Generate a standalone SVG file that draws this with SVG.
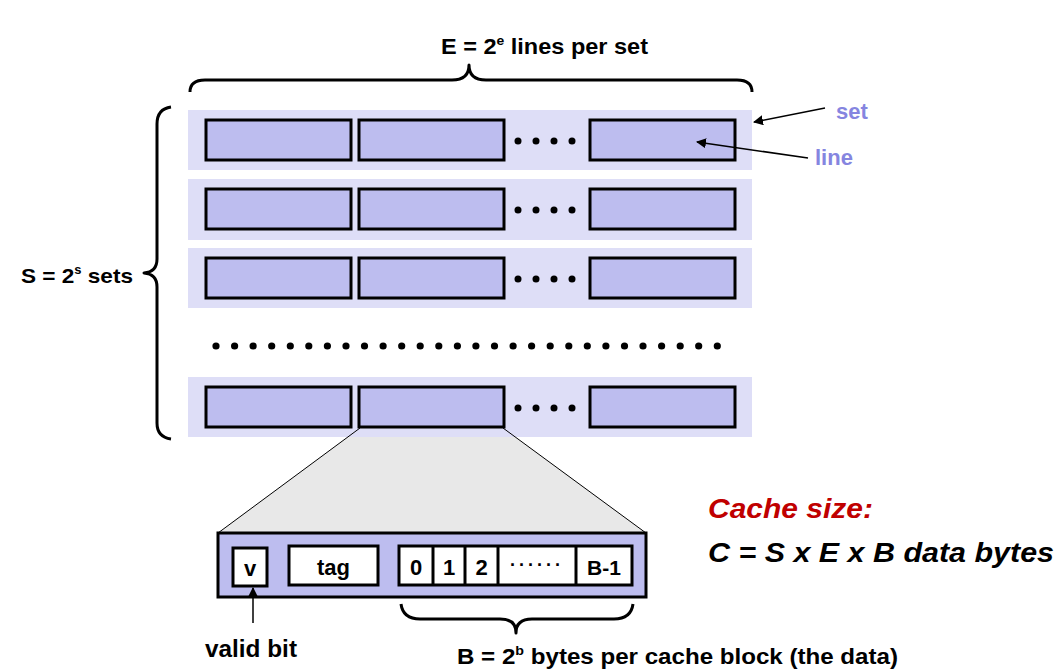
<svg xmlns="http://www.w3.org/2000/svg" width="1063" height="669" viewBox="0 0 1063 669">
<defs>
<marker id="ah" viewBox="0 0 10 10" refX="9" refY="5" markerWidth="10" markerHeight="10" markerUnits="userSpaceOnUse" orient="auto">
<path d="M0,0 L10,5 L0,10 z" fill="#000"/>
</marker>
<style>
.setbg{fill:#dedef7;stroke:none}
.ln{fill:#bdbdef;stroke:#000;stroke-width:3}
.wb{fill:#fff;stroke:#000;stroke-width:3}
.brace{fill:none;stroke:#000;stroke-width:3;stroke-linejoin:round}
.t{font-family:"Liberation Sans",Arial,sans-serif;font-weight:bold;fill:#000}
.lbl{font-family:"Liberation Sans",Arial,sans-serif;font-weight:bold;fill:#8585e0;font-size:22px}
.arr{stroke:#000;stroke-width:1.5;fill:none}
.dot{fill:#000}
</style>
</defs>
<rect width="1063" height="669" fill="#fff"/>

<g id="title">
<text class="t" x="441" y="54" font-size="22" textLength="207" lengthAdjust="spacingAndGlyphs">E = 2<tspan font-size="13" dy="-9">e</tspan><tspan dy="9"> lines per set</tspan></text>
<path class="brace" d="M190,92 Q190,80 205,80 L452,80 Q469,80 469,65 Q469,80 486,80 L737,80 Q752,80 752,92"/>
</g>

<g id="sets-label">
<text class="t" x="21" y="283" font-size="21" textLength="112" lengthAdjust="spacingAndGlyphs">S = 2<tspan font-size="12" dy="-9">s</tspan><tspan dy="9"> sets</tspan></text>
<path class="brace" d="M171,107 Q157,109 157,124 L157,259 Q157,272 144,273 Q157,274 157,287 L157,423 Q157,437 171,439"/>
</g>

<g id="set1">
<rect class="setbg" x="188" y="110" width="564" height="60"/>
<rect class="ln" x="206" y="120" width="145" height="40"/>
<rect class="ln" x="359" y="120" width="145" height="40"/>
<rect class="ln" x="590" y="120" width="145" height="40"/>
<circle class="dot" cx="518" cy="141" r="3.5"/><circle class="dot" cx="536" cy="141" r="3.5"/><circle class="dot" cx="554" cy="141" r="3.5"/><circle class="dot" cx="572" cy="141" r="3.5"/>
</g>
<g id="set2">
<rect class="setbg" x="188" y="179" width="564" height="61"/>
<rect class="ln" x="206" y="189" width="145" height="40"/>
<rect class="ln" x="359" y="189" width="145" height="40"/>
<rect class="ln" x="590" y="189" width="145" height="40"/>
<circle class="dot" cx="518" cy="210" r="3.5"/><circle class="dot" cx="536" cy="210" r="3.5"/><circle class="dot" cx="554" cy="210" r="3.5"/><circle class="dot" cx="572" cy="210" r="3.5"/>
</g>
<g id="set3">
<rect class="setbg" x="188" y="248" width="564" height="60"/>
<rect class="ln" x="206" y="258" width="145" height="40"/>
<rect class="ln" x="359" y="258" width="145" height="40"/>
<rect class="ln" x="590" y="258" width="145" height="40"/>
<circle class="dot" cx="518" cy="279" r="3.5"/><circle class="dot" cx="536" cy="279" r="3.5"/><circle class="dot" cx="554" cy="279" r="3.5"/><circle class="dot" cx="572" cy="279" r="3.5"/>
</g>

<g id="set-ellipsis">
<circle class="dot" cx="216" cy="346" r="3.6"/><circle class="dot" cx="234.6" cy="346" r="3.6"/><circle class="dot" cx="253.1" cy="346" r="3.6"/><circle class="dot" cx="271.7" cy="346" r="3.6"/>
<circle class="dot" cx="290.3" cy="346" r="3.6"/><circle class="dot" cx="308.8" cy="346" r="3.6"/><circle class="dot" cx="327.4" cy="346" r="3.6"/><circle class="dot" cx="346" cy="346" r="3.6"/>
<circle class="dot" cx="364.5" cy="346" r="3.6"/><circle class="dot" cx="383.1" cy="346" r="3.6"/><circle class="dot" cx="401.7" cy="346" r="3.6"/><circle class="dot" cx="420.2" cy="346" r="3.6"/>
<circle class="dot" cx="438.8" cy="346" r="3.6"/><circle class="dot" cx="457.4" cy="346" r="3.6"/><circle class="dot" cx="475.9" cy="346" r="3.6"/><circle class="dot" cx="494.5" cy="346" r="3.6"/>
<circle class="dot" cx="513.1" cy="346" r="3.6"/><circle class="dot" cx="531.6" cy="346" r="3.6"/><circle class="dot" cx="550.2" cy="346" r="3.6"/><circle class="dot" cx="568.8" cy="346" r="3.6"/>
<circle class="dot" cx="587.3" cy="346" r="3.6"/><circle class="dot" cx="605.9" cy="346" r="3.6"/><circle class="dot" cx="624.5" cy="346" r="3.6"/><circle class="dot" cx="643" cy="346" r="3.6"/>
<circle class="dot" cx="661.6" cy="346" r="3.6"/><circle class="dot" cx="680.2" cy="346" r="3.6"/><circle class="dot" cx="698.7" cy="346" r="3.6"/><circle class="dot" cx="717.3" cy="346" r="3.6"/>
</g>

<g id="zoom-wedge">
<polygon points="360,428 503,428 646,533 218,533" fill="#e8e8e8" stroke="none"/>
</g>

<g id="setS">
<rect class="setbg" x="188" y="377" width="564" height="60"/>
<rect class="ln" x="206" y="387" width="145" height="40"/>
<rect class="ln" x="359" y="387" width="145" height="40"/>
<rect class="ln" x="590" y="387" width="145" height="40"/>
<circle class="dot" cx="518" cy="408" r="3.5"/><circle class="dot" cx="536" cy="408" r="3.5"/><circle class="dot" cx="554" cy="408" r="3.5"/><circle class="dot" cx="572" cy="408" r="3.5"/>
</g>

<g id="zoom-wedge-edges">
<line x1="360" y1="428" x2="218" y2="533" stroke="#000" stroke-width="1"/>
<line x1="503" y1="428" x2="646" y2="533" stroke="#000" stroke-width="1"/>
</g>

<g id="line-detail">
<rect class="ln" x="218" y="533" width="428" height="64"/>
<rect class="wb" x="233" y="548" width="34" height="38"/>
<text class="t" x="250" y="576" font-size="22" text-anchor="middle">v</text>
<rect class="wb" x="289" y="546" width="89" height="39"/>
<text class="t" x="333.5" y="575" font-size="22" text-anchor="middle">tag</text>
<rect class="wb" x="399" y="546" width="233" height="39"/>
<line x1="433" y1="546" x2="433" y2="585" stroke="#000" stroke-width="3"/>
<line x1="465" y1="546" x2="465" y2="585" stroke="#000" stroke-width="3"/>
<line x1="498" y1="546" x2="498" y2="585" stroke="#000" stroke-width="3"/>
<line x1="576" y1="546" x2="576" y2="585" stroke="#000" stroke-width="3"/>
<text class="t" x="416" y="575" font-size="22" text-anchor="middle">0</text>
<text class="t" x="449" y="575" font-size="22" text-anchor="middle">1</text>
<text class="t" x="481.5" y="575" font-size="22" text-anchor="middle">2</text>
<text class="t" x="537" y="571" font-size="18" text-anchor="middle" letter-spacing="3">······</text>
<text class="t" x="604" y="575" font-size="21" text-anchor="middle">B-1</text>
</g>

<g id="valid-bit">
<text class="t" x="205" y="657" font-size="23" textLength="92" lengthAdjust="spacingAndGlyphs">valid bit</text>
</g>

<g id="block-label">
<path class="brace" d="M401,604 Q403,619 420,619 L500,619 Q516,619 516,633 Q516,619 532,619 L614,619 Q631,619 633,604"/>
<text class="t" x="457" y="664" font-size="22" textLength="441" lengthAdjust="spacingAndGlyphs">B = 2<tspan font-size="13" dy="-9">b</tspan><tspan dy="9"> bytes per cache block (the data)</tspan></text>
</g>

<g id="set-label"><text class="lbl" x="836" y="119">set</text></g>
<g id="line-label"><text class="lbl" x="815" y="165">line</text></g>

<g id="cache-size">
<text x="708" y="518" font-family="Liberation Sans, Arial, sans-serif" font-weight="bold" font-style="italic" font-size="28" fill="#c00000" textLength="165" lengthAdjust="spacingAndGlyphs">Cache size:</text>
<text x="708" y="562" font-family="Liberation Sans, Arial, sans-serif" font-weight="bold" font-style="italic" font-size="28" fill="#000" textLength="346" lengthAdjust="spacingAndGlyphs">C = S x E x B data bytes</text>
</g>

<g id="connectors">
<line class="arr" x1="825" y1="108" x2="754" y2="122" marker-end="url(#ah)"/>
<line class="arr" x1="808" y1="158" x2="697" y2="142" marker-end="url(#ah)"/>
<line class="arr" x1="253" y1="623" x2="253" y2="588" marker-end="url(#ah)"/>
</g>
</svg>
